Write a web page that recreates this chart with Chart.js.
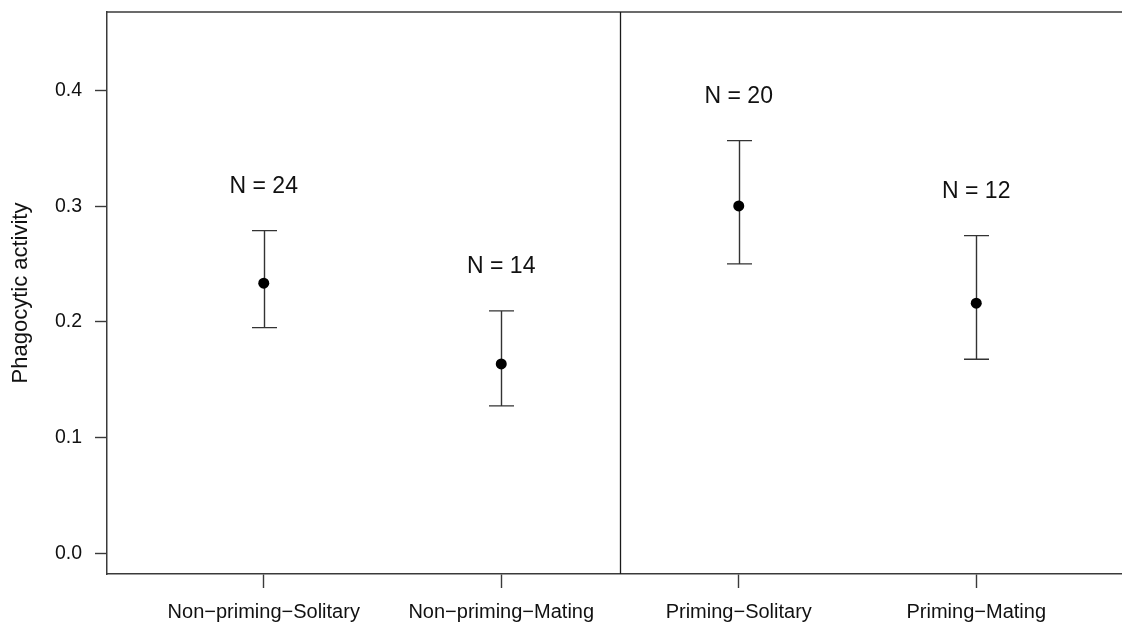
<!DOCTYPE html>
<html>
<head>
<meta charset="utf-8">
<title>Phagocytic activity by treatment</title>
<script src="https://cdn.jsdelivr.net/npm/chart.js@4.4.1/dist/chart.umd.min.js"></script>
<style>
  html, body { margin: 0; padding: 0; background: #ffffff; overflow: hidden; }
  #wrap { width: 1122px; height: 624px; overflow: hidden; position: relative; }
  canvas { display: block; }
</style>
</head>
<body>
<div id="wrap"><canvas id="chart" width="1140" height="624"></canvas></div>
<script>
// Treatment groups along the x axis
const categories = ['Non\u2212priming\u2212Solitary', 'Non\u2212priming\u2212Mating', 'Priming\u2212Solitary', 'Priming\u2212Mating'];
// Group means and the ends of their error bars
const means = [0.2335, 0.1637, 0.3003, 0.2162];
const upperBars = [0.2789, 0.2095, 0.3568, 0.2746];
const lowerBars = [0.1951, 0.1274, 0.2502, 0.1677];
// Sample size of each group
const sampleSizes = [24, 14, 20, 12];
// Y axis tick values
const yTicks = [0.0, 0.1, 0.2, 0.3, 0.4];
// Boundary between the non-priming and priming halves
const dividerAt = 2.5;

const FONT = "'Liberation Sans', Arial, Helvetica, sans-serif";
const AXIS_COLOR = '#3a3a3a';
const TEXT_COLOR = '#111111';

// Frame, divider, error bars and N labels
const decorations = {
  id: 'decorations',
  beforeDatasetsDraw(chart) {
    const ctx = chart.ctx;
    const x = chart.scales.x, y = chart.scales.y;
    const area = chart.chartArea;
    ctx.save();
    ctx.strokeStyle = AXIS_COLOR;
    ctx.lineWidth = 1.5;
    // top edge of the box
    ctx.beginPath();
    ctx.moveTo(area.left, area.top);
    ctx.lineTo(area.right, area.top);
    ctx.stroke();
    // right edge of the box
    ctx.beginPath();
    ctx.moveTo(area.right, area.top);
    ctx.lineTo(area.right, area.bottom);
    ctx.stroke();
    // divider between the two halves
    const dx = Math.round(x.getPixelForValue(dividerAt)) + 0.5;
    ctx.strokeStyle = '#1a1a1a';
    ctx.lineWidth = 1.3;
    ctx.beginPath();
    ctx.moveTo(dx, area.top);
    ctx.lineTo(dx, area.bottom);
    ctx.stroke();

    // error bars
    ctx.strokeStyle = '#333333';
    ctx.lineWidth = 1.4;
    const cap = 12.5;
    categories.forEach((c, i) => {
      const px = Math.round(x.getPixelForValue(i + 1)) + 0.5;
      const pu = y.getPixelForValue(upperBars[i]);
      const pl = y.getPixelForValue(lowerBars[i]);
      ctx.beginPath();
      ctx.moveTo(px, pu); ctx.lineTo(px, pl);
      ctx.moveTo(px - cap, pu); ctx.lineTo(px + cap, pu);
      ctx.moveTo(px - cap, pl); ctx.lineTo(px + cap, pl);
      ctx.stroke();
    });

    // sample size labels above each bar
    ctx.fillStyle = TEXT_COLOR;
    ctx.font = '23px ' + FONT;
    ctx.textAlign = 'center';
    ctx.textBaseline = 'middle';
    categories.forEach((c, i) => {
      const px = x.getPixelForValue(i + 1);
      const py = y.getPixelForValue(upperBars[i] + 0.038);
      ctx.fillText('N = ' + sampleSizes[i], px, py);
    });
    ctx.restore();
  }
};

new Chart(document.getElementById('chart'), {
  type: 'scatter',
  data: {
    datasets: [{
      label: 'Phagocytic activity',
      data: means.map((m, i) => ({ x: i + 1, y: m })),
      backgroundColor: '#000000',
      borderColor: '#000000',
      pointRadius: 5.5,
      pointHoverRadius: 5.5,
      borderWidth: 0
    }]
  },
  options: {
    responsive: false,
    animation: false,
    devicePixelRatio: 1,
    layout: { padding: { top: 12, right: 7, bottom: 0, left: 0 } },
    plugins: {
      legend: { display: false },
      tooltip: { enabled: false }
    },
    scales: {
      x: {
        type: 'linear',
        min: 0.34,
        max: 4.66,
        afterBuildTicks(scale) {
          scale.ticks = categories.map((c, i) => ({ value: i + 1 }));
        },
        afterFit(scale) {
          scale.height = 50;
          scale.paddingLeft = 0;
          scale.paddingRight = 0;
        },
        grid: {
          display: true,
          drawOnChartArea: false,
          drawTicks: true,
          tickLength: 14,
          tickWidth: 1.4,
          tickColor: AXIS_COLOR
        },
        border: { display: true, color: AXIS_COLOR, width: 1.5 },
        ticks: {
          autoSkip: false,
          maxRotation: 0,
          minRotation: 0,
          padding: 12,
          color: TEXT_COLOR,
          font: { family: FONT, size: 20 },
          callback: (v) => categories[Math.round(v) - 1]
        }
      },
      y: {
        type: 'linear',
        min: -0.018,
        max: 0.468,
        afterBuildTicks(scale) {
          scale.ticks = yTicks.map(v => ({ value: v }));
        },
        afterFit(scale) {
          scale.width = 107;
          scale.paddingTop = 0;
          scale.paddingBottom = 0;
        },
        grid: {
          display: true,
          drawOnChartArea: false,
          drawTicks: true,
          tickLength: 12,
          tickWidth: 1.4,
          tickColor: AXIS_COLOR
        },
        border: { display: true, color: AXIS_COLOR, width: 1.5 },
        ticks: {
          padding: 13,
          color: TEXT_COLOR,
          font: { family: FONT, size: 19.5 },
          callback: (v) => Number(v).toFixed(1)
        },
        title: {
          display: true,
          text: 'Phagocytic activity',
          color: TEXT_COLOR,
          font: { family: FONT, size: 22 },
          padding: { top: 8, bottom: 0 }
        }
      }
    }
  },
  plugins: [decorations]
});
</script>
</body>
</html>
